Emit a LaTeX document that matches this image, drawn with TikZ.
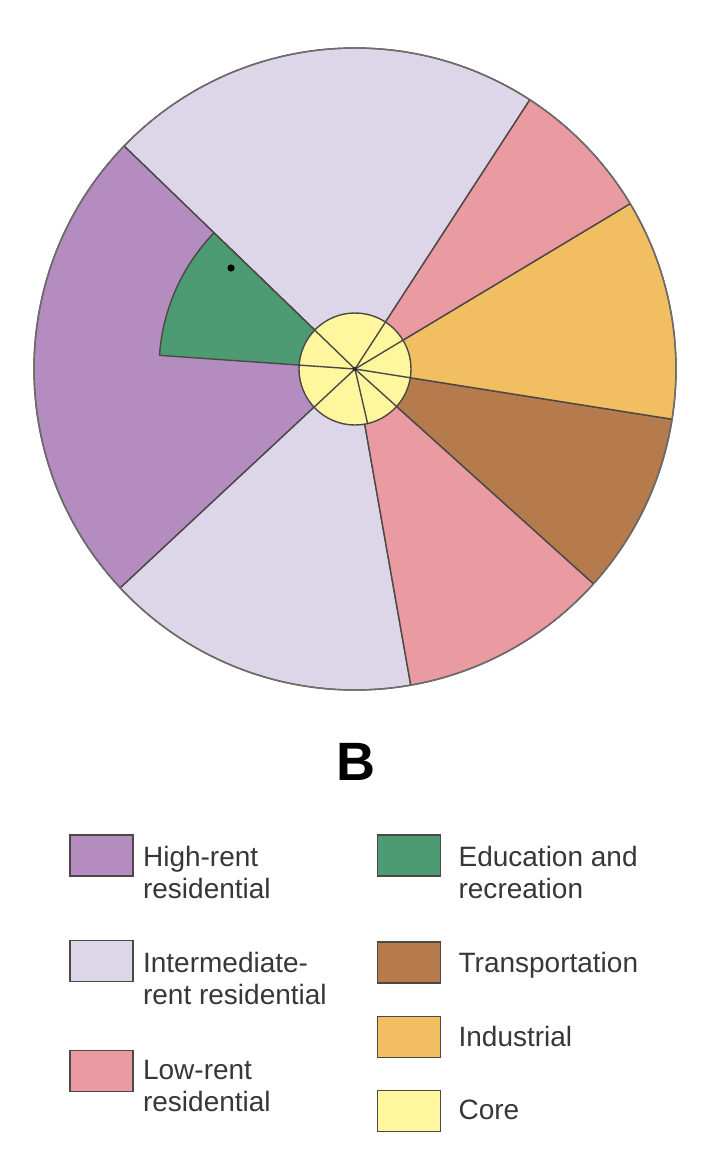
\documentclass[tikz,border=0pt]{standalone}
\usepackage{fontspec}
\setmainfont{Liberation Sans}
\usetikzlibrary{positioning}
\definecolor{cHigh}{RGB}{181,140,192}
\definecolor{cInter}{RGB}{221,213,232}
\definecolor{cLow}{RGB}{234,155,161}
\definecolor{cEdu}{RGB}{76,155,115}
\definecolor{cTrans}{RGB}{181,123,76}
\definecolor{cInd}{RGB}{242,190,98}
\definecolor{cCore}{RGB}{255,246,158}
\definecolor{cEdge}{RGB}{75,72,70}
\definecolor{cText}{RGB}{55,55,55}
\tikzset{
	zone/.style   ={draw=cEdge, line width=0.7pt, line join=round},
	keybox/.style ={rectangle, draw=cEdge, line width=0.7pt, minimum width=31.5pt, minimum height=20.5pt, inner sep=0pt},
	keytext/.style={align=left, inner sep=0pt, text=cText, font=\fontsize{14}{16}\selectfont},
}
% one wedge of the city: start angle, end angle, radius, colour
\newcommand{\zonewedge}[4]{\filldraw[zone, fill=#4] (ctr) -- ++(#1:#3) arc[start angle=#1, end angle=#2, radius=#3] -- cycle;}

\begin{document}
\begin{tikzpicture}[x=0.5pt, y=0.5pt]
	\useasboundingbox (0,0) rectangle (722,-1160);
	\coordinate (ctr) at (355,-369);
	% outer sectors
	\zonewedge{57}{136}{321}{cInter}
	\zonewedge{136}{223}{321}{cHigh}
	\zonewedge{223}{280}{321}{cInter}
	\zonewedge{280}{318}{321}{cLow}
	\zonewedge{318}{351}{321}{cTrans}
	\zonewedge{351}{391}{321}{cInd}
	\zonewedge{31}{57}{321}{cLow}
	\zonewedge{136}{176}{196}{cEdu}
	\fill (231,-268) circle[radius=3.6];
	\draw[draw=cEdge!80, line width=0.7pt] (ctr) circle[radius=321];
	% core
	\filldraw[zone, fill=cCore] (ctr) circle[radius=56];
	\foreach \a in {136,57,31,-9,-42,-77,223,176}
		\draw[zone] (ctr) -- ++(\a:56);
	\fill[cEdge!60!black] (ctr) circle[radius=2.2];

	\node[font=\fontsize{27}{30}\selectfont\bfseries] (title) at (356,-762) {B};

	% legend
	\node[keybox, fill=cHigh]  (kHigh)  at (101.5,-855.5) {};
	\node[keybox, fill=cInter] (kInter) at (101.5,-961) {};
	\node[keybox, fill=cLow]   (kLow)   at (101.5,-1071) {};
	\node[keybox, fill=cEdu]   (kEdu)   at (409,-855.5) {};
	\node[keybox, fill=cTrans] (kTrans) at (409,-962.5) {};
	\node[keybox, fill=cInd]   (kInd)   at (409,-1037) {};
	\node[keybox, fill=cCore]  (kCore)  at (409,-1111) {};
	\node[keytext, below right=6pt and 4.5pt of kHigh.north east]  {High-rent\\residential};
	\node[keytext, below right=6pt and 4.5pt of kInter.north east] {Intermediate-\\rent residential};
	\node[keytext, below right=5pt and 4.5pt of kLow.north east]   {Low-rent\\residential};
	\node[keytext, below right=6pt and 8.5pt of kEdu.north east]   {Education and\\recreation};
	\node[keytext, below right=5pt and 8.5pt of kTrans.north east] {Transportation};
	\node[keytext, below right=5pt and 8.5pt of kInd.north east]   {Industrial};
	\node[keytext, below right=5pt and 8.5pt of kCore.north east]  {Core};
\end{tikzpicture}
\end{document}
